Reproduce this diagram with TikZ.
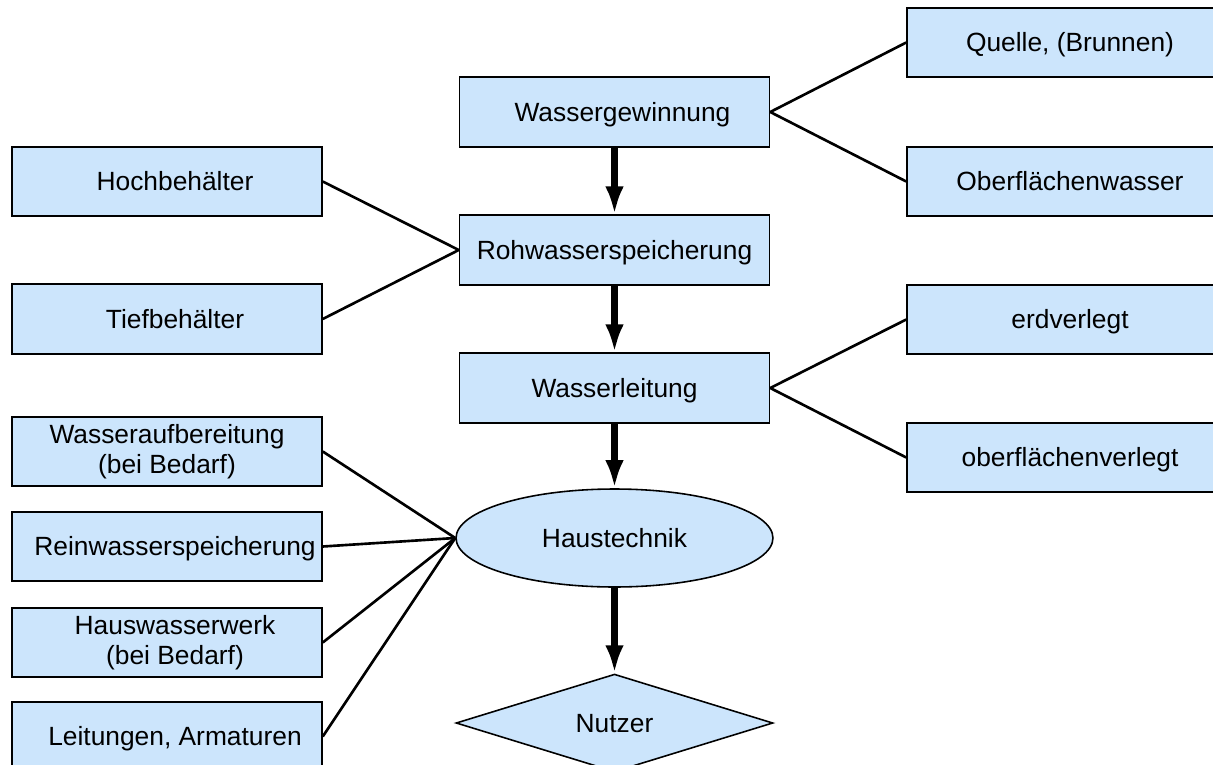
\documentclass[tikz,border=0pt]{standalone}
\usepackage{fontspec}
\setmainfont{Liberation Sans}
\usetikzlibrary{arrows.meta,shapes.geometric}
\definecolor{boxblue}{RGB}{204,229,252}
\newcommand{\lpad}{\hspace*{3.2mm}}

\begin{document}
\begin{tikzpicture}[x=0.02cm, y=-0.02cm,
		font=\fontsize{15}{17}\selectfont,
		box/.style={draw, line width=0.9pt, fill=boxblue, minimum width=6.2cm, minimum height=1.39cm, inner sep=0pt, align=center, text height=11pt, text depth=0.5pt},
		twoline/.style={text height=, text depth=},
		oval/.style={box, ellipse, minimum width=6.34cm, minimum height=1.96cm},
		user/.style={box, diamond, minimum width=6.34cm, minimum height=1.88cm},
		link/.style={line width=1.5pt},
		flow/.style={line width=3.6pt, -{Latex[length=5.6mm, width=3.7mm]}}]

		\clip (0, 0) rectangle (1213, 764);

		\node [box]		(gewinnung)	at (614.5, 112)		{\lpad Wassergewinnung};
		\node [box]		(rohwasser)	at (614.5, 250)		{Rohwasserspeicherung};
		\node [box]		(leitung)		at (614.5, 388)		{Wasserleitung};
		\node [oval]	(haus)			at (614.5, 538)		{Haustechnik};
		\node [user]	(nutzer)		at (614.5, 723)		{Nutzer};

		\node [box]		(quelle)		at (1062, 42.5)		{\lpad Quelle, (Brunnen)};
		\node [box]		(oberwasser)	at (1062, 181.5)	{\lpad Oberflächenwasser};
		\node [box]		(erd)			at (1062, 319.5)	{\lpad erdverlegt};
		\node [box]		(oberverl)		at (1062, 457.5)	{\lpad oberflächenverlegt};

		\node [box]		(hoch)			at (167, 181.5)		{\lpad Hochbehälter};
		\node [box]		(tief)			at (167, 319)		{\lpad Tiefbehälter};
		\node [box, twoline]	(aufb)	at (167, 451.5)		{Wasseraufbereitung\\ (bei Bedarf)};
		\node [box]		(rein)			at (167, 546.5)		{\lpad Reinwasserspeicherung};
		\node [box, twoline]	(hwerk)	at (167, 642.5)		{\lpad Hauswasserwerk\\ \lpad (bei Bedarf)};
		\node [box]		(leit)			at (167, 736.5)		{\lpad Leitungen, Armaturen};

		\draw [flow]	(gewinnung) to (rohwasser);
		\draw [flow]	(rohwasser) to (leitung);
		\draw [flow]	(leitung) to (haus);
		\draw [flow]	(haus) to (nutzer);

		\draw [link]	(gewinnung.east) to (quelle.west);
		\draw [link]	(gewinnung.east) to (oberwasser.west);
		\draw [link]	(hoch.east) to (rohwasser.west);
		\draw [link]	(tief.east) to (rohwasser.west);
		\draw [link]	(leitung.east) to (erd.west);
		\draw [link]	(leitung.east) to (oberverl.west);
		\draw [link]	(aufb.east) to (haus.west);
		\draw [link]	(rein.east) to (haus.west);
		\draw [link]	(hwerk.east) to (haus.west);
		\draw [link]	(leit.east) to (haus.west);

	\end{tikzpicture}
\end{document}
